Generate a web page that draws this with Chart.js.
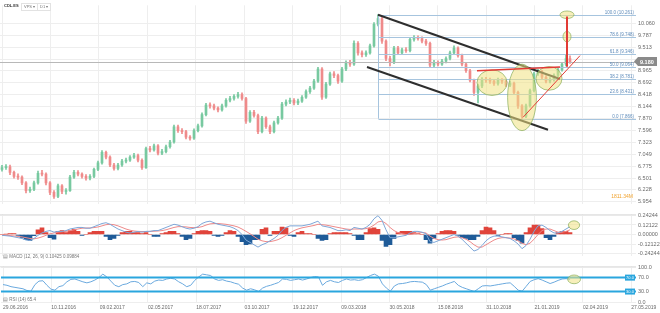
<!DOCTYPE html>
<html><head><meta charset="utf-8">
<script src="https://cdn.jsdelivr.net/npm/chart.js@4.4.1/dist/chart.umd.min.js"></script>
<style>
html,body{margin:0;padding:0;background:#fff;width:660px;height:313px;overflow:hidden;font-family:"Liberation Sans",Arial,sans-serif;}
canvas{position:absolute;left:0;}
#c1{top:0}#c2{top:209px}#c3{top:261px}
.lbl{position:absolute;white-space:nowrap;line-height:1;}
</style></head><body>
<canvas id="c1" width="660" height="209"></canvas>
<canvas id="c2" width="660" height="52"></canvas>
<canvas id="c3" width="660" height="52"></canvas>
<div class="lbl" style="left:4px;top:4px;font-size:4px;font-weight:bold;color:#333">CDL.ES</div>
<div class="lbl" style="left:21px;top:3px;font-size:4px;color:#777;border:1px solid #e2e2e2;padding:1px 2px">VPS ▾</div>
<div class="lbl" style="left:37px;top:3px;font-size:4px;color:#777;border:1px solid #e2e2e2;padding:1px 2px">D1 ▾</div>
<div class="lbl" style="left:3px;top:255px;font-size:4.5px;color:#777">▤ MACD (12, 26, 9)  0.10425  0.09884</div>
<div class="lbl" style="left:3px;top:298px;font-size:4.5px;color:#777">▤ RSI (14)  65.4</div>
<script>
const opens = [6.70,6.74,6.76,6.63,6.54,6.52,6.39,6.21,6.24,6.39,
6.61,6.59,6.39,6.17,6.08,6.32,6.19,6.21,6.52,6.63,
6.59,6.54,6.50,6.54,6.70,6.85,7.09,6.98,6.80,6.72,
6.80,6.89,6.91,6.98,7.02,6.91,6.74,7.18,7.15,7.24,
7.07,7.11,7.22,7.33,7.68,7.59,7.57,7.44,7.42,7.59,
7.70,7.96,8.18,8.16,8.11,8.07,8.16,8.29,8.33,8.38,
8.42,8.33,7.81,8.01,7.94,7.57,7.88,7.68,7.57,7.77,
7.88,8.20,8.25,8.29,8.23,8.27,8.36,8.49,8.57,8.73,
9.01,8.36,8.66,8.90,8.86,8.73,9.01,9.16,9.12,9.60,
9.38,9.34,9.38,9.54,10.04,10.17,9.65,9.25,9.16,9.49,
9.38,9.45,9.43,9.69,9.73,9.71,9.65,9.60,9.10,9.16,
9.12,9.19,9.25,9.38,9.49,9.32,9.12,8.97,8.75,8.47,
8.62,8.77,8.75,8.73,8.68,8.75,8.73,8.64,8.68,8.47,
8.16,7.92,8.16,8.51,8.90,8.95,8.82,8.73,8.77,8.86,
8.99,9.12,9.25];
const highs = [6.79,6.81,6.80,6.66,6.60,6.55,6.42,6.29,6.43,6.66,
6.68,6.62,6.42,6.21,6.36,6.35,6.26,6.56,6.68,6.67,
6.62,6.58,6.58,6.73,6.89,7.13,7.12,7.01,6.84,6.84,
6.93,6.96,7.02,7.07,7.05,6.94,7.21,7.23,7.28,7.27,
7.16,7.26,7.37,7.72,7.72,7.64,7.60,7.48,7.63,7.74,
8.00,8.22,8.23,8.20,8.14,8.20,8.33,8.38,8.42,8.47,
8.46,8.36,8.05,8.06,7.97,7.92,7.91,7.72,7.81,7.92,
8.24,8.30,8.34,8.33,8.32,8.40,8.53,8.61,8.77,9.05,
9.04,8.70,8.94,8.95,8.89,9.05,9.20,9.21,9.66,9.64,
9.43,9.43,9.58,10.08,10.26,10.20,9.68,9.30,9.53,9.53,
9.49,9.50,9.73,9.78,9.77,9.75,9.69,9.63,9.21,9.20,
9.23,9.29,9.42,9.54,9.52,9.35,9.15,9.00,8.78,8.66,
8.81,8.82,8.80,8.77,8.80,8.79,8.77,8.73,8.71,8.50,
8.19,8.20,8.55,8.94,9.00,8.98,8.86,8.81,8.90,9.03,
9.16,9.33,9.31];
const lows = [6.66,6.70,6.58,6.50,6.47,6.35,6.16,6.17,6.21,6.36,
6.55,6.34,6.12,6.03,6.05,6.14,6.13,6.19,6.49,6.55,
6.50,6.45,6.46,6.51,6.67,6.82,6.94,6.76,6.68,6.69,
6.77,6.85,6.88,6.95,6.87,6.70,6.72,7.10,7.12,7.03,
7.04,7.08,7.19,7.30,7.55,7.52,7.40,7.37,7.39,7.56,
7.67,7.93,8.11,8.07,8.02,8.04,8.13,8.25,8.29,8.34,
8.29,7.76,7.78,7.90,7.52,7.54,7.64,7.52,7.54,7.74,
7.85,8.16,8.21,8.18,8.19,8.24,8.33,8.45,8.54,8.70,
8.31,8.33,8.63,8.81,8.68,8.70,8.97,9.07,9.09,9.33,
9.29,9.30,9.35,9.51,10.00,9.60,9.20,9.08,9.13,9.34,
9.34,9.39,9.40,9.65,9.67,9.61,9.55,9.05,9.06,9.08,
9.09,9.15,9.22,9.35,9.28,9.08,8.93,8.71,8.40,8.23,
8.58,8.70,8.68,8.63,8.64,8.68,8.60,8.60,8.42,8.10,
7.87,7.89,8.13,8.48,8.86,8.78,8.69,8.69,8.73,8.83,
8.96,9.08,9.14];
const closes = [6.74,6.76,6.63,6.54,6.52,6.39,6.21,6.24,6.39,6.61,
6.59,6.39,6.17,6.08,6.32,6.19,6.21,6.52,6.63,6.59,
6.54,6.50,6.54,6.70,6.85,7.09,6.98,6.80,6.72,6.80,
6.89,6.91,6.98,7.02,6.91,6.74,7.18,7.15,7.24,7.07,
7.11,7.22,7.33,7.68,7.59,7.57,7.44,7.42,7.59,7.70,
7.96,8.18,8.16,8.11,8.07,8.16,8.29,8.33,8.38,8.42,
8.33,7.81,8.01,7.94,7.57,7.88,7.68,7.57,7.77,7.88,
8.20,8.25,8.29,8.23,8.27,8.36,8.49,8.57,8.73,9.01,
8.36,8.66,8.90,8.86,8.73,9.01,9.16,9.12,9.60,9.38,
9.34,9.38,9.54,10.04,10.17,9.65,9.25,9.16,9.49,9.38,
9.45,9.43,9.69,9.73,9.71,9.65,9.60,9.10,9.16,9.12,
9.19,9.25,9.38,9.49,9.32,9.12,8.97,8.75,8.47,8.62,
8.77,8.75,8.73,8.68,8.75,8.73,8.64,8.68,8.47,8.16,
7.92,8.16,8.51,8.90,8.95,8.82,8.73,8.77,8.86,8.99,
9.12,9.25,9.18];
const macdLine = [-0.01,-0.015,-0.02,-0.03,-0.04,-0.05,-0.07,-0.075,-0.05,-0.01,
0.02,0.04,0.05,0.03,0.04,0.04,0.05,0.07,0.08,0.09,
0.09,0.08,0.08,0.10,0.12,0.14,0.15,0.13,0.10,0.07,
0.05,0.03,0.02,0.03,0.04,0.03,0.04,0.04,0.05,0.05,
0.07,0.09,0.11,0.13,0.12,0.10,0.08,0.07,0.08,0.10,
0.14,0.16,0.17,0.15,0.13,0.12,0.11,0.10,0.08,0.05,
0.00,-0.07,-0.10,-0.13,-0.16,-0.13,-0.11,-0.08,-0.05,-0.01,
0.05,0.09,0.11,0.11,0.11,0.11,0.12,0.13,0.15,0.17,
0.11,0.10,0.09,0.07,0.05,0.05,0.06,0.05,0.09,0.08,
0.07,0.09,0.13,0.20,0.24,0.18,0.06,-0.04,-0.04,-0.03,
-0.02,-0.01,0.02,0.04,0.04,0.03,0.01,-0.09,-0.10,-0.08,
-0.06,-0.04,-0.02,0.00,-0.02,-0.06,-0.11,-0.16,-0.21,-0.19,
-0.14,-0.08,-0.04,-0.02,-0.02,-0.03,-0.04,-0.05,-0.08,-0.12,
-0.18,-0.14,-0.06,0.04,0.11,0.12,0.09,0.05,0.02,0.02,
0.04,0.07,0.10];
const signalLine = [-0.005,-0.01,-0.013,-0.018,-0.024,-0.03,-0.04,-0.05,-0.055,-0.045,
-0.03,-0.01,0.01,0.02,0.03,0.035,0.04,0.05,0.06,0.07,
0.08,0.083,0.083,0.088,0.096,0.11,0.125,0.13,0.125,0.11,
0.09,0.07,0.055,0.045,0.04,0.038,0.038,0.04,0.042,0.045,
0.05,0.06,0.075,0.09,0.10,0.10,0.097,0.09,0.087,0.09,
0.10,0.12,0.135,0.14,0.14,0.135,0.13,0.12,0.11,0.095,
0.07,0.04,0.01,-0.025,-0.06,-0.08,-0.09,-0.09,-0.08,-0.065,
-0.04,-0.01,0.02,0.05,0.07,0.085,0.095,0.105,0.115,0.13,
0.125,0.12,0.11,0.10,0.09,0.08,0.07,0.065,0.07,0.07,
0.07,0.075,0.09,0.12,0.16,0.17,0.14,0.09,0.05,0.025,
0.01,0.0,0.0,0.01,0.02,0.025,0.02,-0.02,-0.05,-0.065,
-0.07,-0.065,-0.05,-0.035,-0.03,-0.04,-0.06,-0.09,-0.13,-0.16,
-0.16,-0.13,-0.10,-0.07,-0.05,-0.04,-0.04,-0.045,-0.055,-0.08,
-0.11,-0.13,-0.11,-0.06,0.0,0.05,0.07,0.07,0.05,0.03,
0.03,0.04,0.06];
const macdHist = [0,0.005,0.012,0.012,-0.012,-0.04,-0.065,-0.075,-0.015,0.06,
0.085,0.025,-0.04,-0.06,0.04,0.05,0.025,0.05,0.065,0.04,
-0.012,0.0,0.025,0.04,0.04,0.04,-0.025,-0.065,-0.05,-0.012,
0.025,0.04,0.04,0.025,0.025,0.012,0.025,0.0,-0.025,-0.025,
0.012,0.025,0.04,0.04,0.012,-0.025,-0.065,-0.05,0.012,0.04,
0.05,0.05,0.04,-0.012,-0.025,-0.012,0.025,0.05,0.04,-0.025,
-0.09,-0.13,-0.12,-0.065,-0.065,0.065,0.085,-0.012,0.04,0.04,
0.095,0.085,-0.012,-0.025,0.025,0.04,0.012,0.012,0.0,-0.05,
-0.075,-0.065,0.012,0.025,0.025,0.025,0.025,0.012,-0.012,-0.065,
-0.065,0.025,0.075,0.085,0.065,-0.075,-0.15,-0.13,-0.05,0.025,
0.04,0.04,0.04,0.025,0.012,0.0,-0.065,-0.11,-0.05,0.012,
0.04,0.05,0.05,0.04,-0.012,-0.04,-0.05,-0.065,-0.065,-0.025,
0.05,0.095,0.085,0.05,-0.012,0.0,0.012,0.012,-0.04,-0.075,
-0.11,0.025,0.085,0.12,0.12,0.075,-0.04,-0.065,-0.025,0.025,
0.04,0.04,0.025];
const rsiValues = [50,48,44,42,40,38,33,31,50,60,
61,48,37,34,44,47,58,65,66,62,
58,55,58,63,70,80,72,60,48,44,
50,52,58,59,56,44,55,52,60,63,
62,66,68,66,58,52,44,48,62,72,
80,78,76,66,62,64,60,58,54,51,
40,34,38,35,30,40,45,48,52,56,
66,65,62,64,66,63,66,70,73,72,
48,58,62,58,56,62,66,63,64,62,
64,70,76,80,74,52,40,31,46,52,
53,55,58,59,58,57,50,34,38,42,
46,51,55,59,48,42,38,34,30,38,
46,47,46,48,50,52,54,55,45,34,
31,45,59,64,67,63,58,53,57,62,
66,67,65];
const dateTickIndex = [0,12.1,24.2,36.3,48.4,60.5,72.6,84.7,96.8,108.9,121,133.1,145.2,157.3];
const dateTickLabels = ['29.06.2016','10.11.2016','09.02.2017','02.05.2017','18.07.2017','03.10.2017','19.12.2017','09.03.2018','30.05.2018','15.08.2018','31.10.2018','21.01.2019','02.04.2019','27.05.2019'];
const priceTicks = [10.060,9.787,9.513,9.239,8.965,8.692,8.418,8.144,7.870,7.596,7.323,7.049,6.775,6.501,6.228,5.954];
const macdTicks = [0.24244,0.12122,0,-0.12122,-0.24244];
const rsiTicks = [100,70,30,0];
const rsiLevels = [70,30];
const fibLevels = [100,78.6,61.8,50,38.2,23.6,0];
const fibPrices = [10.261,9.748,9.346,9.064,8.781,8.431,7.866];
const fibStartIndex = 94;
const channelUpper = [[94,10.257],[139.5,8.78]];
const channelLower = [[91.25,9.055],[136.5,7.613]];
const neckLine = [[118.75,8.967],[139.5,9.055]];
const riseLine = [[130.25,7.897],[144.5,9.317]];
const targetLine = [[141.25,9.06],[141.25,10.22]];
// ellipses: [centerIndex, centerValue, radiusIndex, radiusValue]
const priceEllipses = [[122.5,8.694,3.75,0.295],[130,8.356,3.6,0.765],[136.75,8.793,3.25,0.273],[141.25,10.257,1.75,0.087],[141.25,9.754,1.0,0.12]];
const macdEllipse = [143,0.119,1.4,0.055];
const rsiEllipse = [143,65,1.6,12.5];
const volumeText = '1811.34M';

const FONT = "'Liberation Sans', Arial, sans-serif";
const UP = '#78c9a0', DOWN = '#ef8b8b';
const GRID = '#eeeeee';
const slots = closes.map((_, i) => i);
const XMIN = -0.5, XMAX = 158.5;

function xAxis(show) {
  return {
    type: 'linear', min: XMIN, max: XMAX, offset: false,
    afterBuildTicks: s => { s.ticks = dateTickIndex.map(v => ({value: v})); },
    afterFit: s => { s.height = show ? 11 : 0; },
    ticks: {display: show, autoSkip: false, maxRotation: 0, minRotation: 0, align: 'start', padding: 3,
      font: {size: 5, family: FONT}, color: '#6a6a6a', callback: (v, i) => dateTickLabels[i]},
    grid: {color: GRID, drawTicks: false, offset: false},
    border: {display: false}
  };
}
function yAxis(min, max, ticks, fmt) {
  return {
    position: 'right', min, max, beginAtZero: false,
    afterBuildTicks: s => { s.ticks = ticks.map(v => ({value: v})); },
    afterFit: s => { s.width = 24; },
    ticks: {padding: 2, font: {size: 5.5, family: FONT}, color: '#6a6a6a', callback: fmt},
    grid: {color: GRID, drawTicks: false},
    border: {display: false}
  };
}
function drawEllipse(ctx, X, Y, e) {
  const cx = X.getPixelForValue(e[0]), cy = Y.getPixelForValue(e[1]);
  const rx = Math.abs(X.getPixelForValue(e[0] + e[2]) - cx);
  const ry = Math.abs(Y.getPixelForValue(e[1] + e[3]) - cy);
  ctx.beginPath(); ctx.ellipse(cx, cy, rx, ry, 0, 0, Math.PI * 2);
  ctx.fillStyle = 'rgba(240,226,130,0.55)'; ctx.fill();
  ctx.strokeStyle = 'rgba(140,175,95,0.9)'; ctx.lineWidth = 0.8; ctx.stroke();
}
function separator(chart) {
  const {ctx, chartArea} = chart;
  ctx.save(); ctx.strokeStyle = '#dcdcdc'; ctx.lineWidth = 1;
  ctx.beginPath(); ctx.moveTo(0, chartArea.top + 0.5); ctx.lineTo(chartArea.right, chartArea.top + 0.5); ctx.stroke();
  ctx.restore();
}
const common = {responsive: false, animation: false, devicePixelRatio: 1,
  layout: {padding: 0, autoPadding: false},
  plugins: {legend: {display: false}, tooltip: {enabled: false}}};

const pricePlugin = {
  id: 'priceOverlay',
  afterDatasetsDraw(chart) {
    const {ctx, scales: {x: X, y: Y}} = chart;
    const px = v => X.getPixelForValue(v), py = v => Y.getPixelForValue(v);
    const seg = (p, color, w) => { ctx.beginPath(); ctx.moveTo(px(p[0][0]), py(p[0][1])); ctx.lineTo(px(p[1][0]), py(p[1][1])); ctx.strokeStyle = color; ctx.lineWidth = w; ctx.stroke(); };
    ctx.save();
    const last = closes[closes.length - 1];
    const ly = Math.round(py(last)) + 0.5;
    ctx.strokeStyle = '#b8b8b8'; ctx.lineWidth = 1;
    ctx.beginPath(); ctx.moveTo(X.left, ly); ctx.lineTo(X.right, ly); ctx.stroke();
    // fibonacci
    const fx = Math.round(px(fibStartIndex)) + 0.5;
    ctx.strokeStyle = '#a6c4de'; ctx.lineWidth = 1;
    ctx.beginPath(); ctx.moveTo(fx, py(fibPrices[0])); ctx.lineTo(fx, py(fibPrices[fibPrices.length - 1])); ctx.stroke();
    ctx.font = '4.5px ' + FONT; ctx.textAlign = 'right'; ctx.textBaseline = 'bottom';
    fibPrices.forEach((p, k) => {
      const y = Math.round(py(p)) + 0.5;
      ctx.beginPath(); ctx.moveTo(fx, y); ctx.lineTo(X.right, y); ctx.stroke();
      ctx.fillStyle = '#5f8cbb';
      ctx.fillText(fibLevels[k].toFixed(1) + ' (' + p.toFixed(3) + ')', X.right - 2, y - 0.5);
    });
    seg(channelUpper, '#2e2e2e', 2);
    seg(channelLower, '#2e2e2e', 2);
    priceEllipses.forEach(e => drawEllipse(ctx, X, Y, e));
    seg(neckLine, '#e23b35', 1.5);
    seg(riseLine, '#e23b35', 1);
    seg(targetLine, '#e23b35', 2);
    // last price tag
    const ty = py(last), r = X.right;
    ctx.fillStyle = '#8a8a8a';
    ctx.beginPath(); ctx.moveTo(r - 2, ty); ctx.lineTo(r + 2, ty - 4.5); ctx.lineTo(r + 21, ty - 4.5); ctx.lineTo(r + 21, ty + 4.5); ctx.lineTo(r + 2, ty + 4.5); ctx.closePath(); ctx.fill();
    ctx.fillStyle = '#fff'; ctx.font = 'bold 5.5px ' + FONT; ctx.textAlign = 'left'; ctx.textBaseline = 'middle';
    ctx.fillText(last.toFixed(3), r + 4, ty + 0.5);
    // volume
    ctx.fillStyle = '#f0a22e'; ctx.font = '5px ' + FONT; ctx.textAlign = 'right'; ctx.textBaseline = 'middle';
    ctx.fillText(volumeText, r - 3, py(6.062));
    ctx.restore();
  }
};

new Chart(document.getElementById('c1'), {
  type: 'bar',
  data: {labels: slots, datasets: [
    {data: lows.map((l, i) => [l, highs[i]]), grouped: false, barThickness: 1,
      backgroundColor: c => closes[c.dataIndex] >= opens[c.dataIndex] ? UP : DOWN},
    {data: opens.map((o, i) => [o, closes[i]]), grouped: false, barThickness: 2, minBarLength: 1,
      backgroundColor: c => closes[c.dataIndex] >= opens[c.dataIndex] ? UP : DOWN}
  ]},
  options: Object.assign({}, common, {
    scales: {x: xAxis(false), y: yAxis(5.910, 10.475, priceTicks, v => v.toFixed(3))}
  }),
  plugins: [pricePlugin]
});

new Chart(document.getElementById('c2'), {
  type: 'bar',
  data: {labels: slots, datasets: [
    {type: 'line', data: macdLine, borderColor: '#7ea7d8', borderWidth: 1, pointRadius: 0, tension: 0},
    {type: 'line', data: signalLine, borderColor: '#ee8a8a', borderWidth: 1, pointRadius: 0, tension: 0},
    {data: macdHist, barThickness: 4, grouped: false,
      backgroundColor: c => macdHist[c.dataIndex] >= 0 ? '#e0443b' : '#1f5b98'}
  ]},
  options: Object.assign({}, common, {
    scales: {x: xAxis(false), y: yAxis(-0.269, 0.257, macdTicks, v => v.toFixed(5))}
  }),
  plugins: [{id: 'macdOverlay', afterDatasetsDraw(chart) {
    const {ctx, scales: {x: X, y: Y}} = chart;
    ctx.save(); drawEllipse(ctx, X, Y, macdEllipse); ctx.restore(); separator(chart);
  }}]
});

new Chart(document.getElementById('c3'), {
  type: 'line',
  data: {labels: slots, datasets: [
    {data: rsiValues, borderColor: '#6aa9de', borderWidth: 1, pointRadius: 0, tension: 0}
  ]},
  options: Object.assign({}, common, {
    scales: {x: xAxis(true), y: yAxis(0, 102.5, rsiTicks, v => v.toFixed(1))}
  }),
  plugins: [{id: 'rsiOverlay', afterDatasetsDraw(chart) {
    const {ctx, scales: {x: X, y: Y}} = chart;
    ctx.save();
    rsiLevels.forEach(v => {
      const y = Y.getPixelForValue(v);
      ctx.strokeStyle = '#2aa6de'; ctx.lineWidth = 2;
      ctx.beginPath(); ctx.moveTo(X.left, y); ctx.lineTo(X.right, y); ctx.stroke();
      ctx.fillStyle = '#2aa6de'; ctx.fillRect(X.right - 11, y - 3, 10, 6);
      ctx.fillStyle = '#fff'; ctx.font = '4px ' + FONT; ctx.textAlign = 'center'; ctx.textBaseline = 'middle';
      ctx.fillText(v.toFixed(1), X.right - 6, y + 0.3);
    });
    drawEllipse(ctx, X, Y, rsiEllipse);
    ctx.restore(); separator(chart);
  }}]
});
</script>
</body></html>
